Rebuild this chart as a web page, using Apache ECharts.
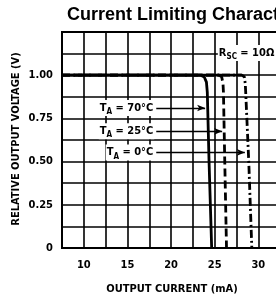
<!DOCTYPE html>
<html>
<head>
<meta charset="utf-8">
<script src="https://cdn.jsdelivr.net/npm/echarts@6/dist/echarts.min.js"></script>
<style>
    html, body { margin: 0; padding: 0; background: #fff; }
    #chart { width: 276px; height: 301px; }
</style>
</head>
<body>
<div id="chart"></div>
<script>
// 曲线数据 [输出电流 mA, 相对输出电压]
var curve70C = [[7.5, 1.0], [23.4, 1.0], [23.8, 0.99], [24.05, 0.96], [24.15, 0.9], [24.35, 0.5], [24.65, 0]];
var curve25C = [[7.5, 1.0], [25.5, 1.0], [25.8, 0.99], [25.95, 0.95], [26.0, 0.9], [26.15, 0.5], [26.35, 0]];
var curve0C = [[7.5, 1.0], [28.1, 1.0], [28.4, 0.99], [28.5, 0.95], [28.55, 0.9], [28.9, 0.5], [29.25, 0]];

var seriesNames = ['70°C', '25°C', '0°C'];
// 箭头: [起点 mA, 终点 mA, 电压]
var arrow70C = [18.3, 23.9, 0.81];
var arrow25C = [18.3, 25.85, 0.675];
var arrow0C = [18.3, 28.45, 0.553];
var rscLabelAt = [25.3, 1.128];

var xTickLabels = [10, 15, 20, 25, 30];
var yTickLabels = [0, 0.25, 0.5, 0.75, 1.0];

(function () {
    "use strict";
    var FONT = '"Liberation Sans Narrow", "DejaVu Sans Condensed", "Liberation Sans", sans-serif';
    var chart = echarts.init(document.getElementById('chart'), null, { renderer: 'canvas' });

    function near(list, v) {
        for (var i = 0; i < list.length; i++) {
            if (Math.abs(list[i] - v) < 1e-6) {
                return true;
            }
        }
        return false;
    }

    function richStyle(size) {
        return {
            t: { fontFamily: FONT, fontWeight: 'bold', fontSize: size, color: '#000', lineHeight: 16, verticalAlign: 'middle' },
            s: { fontFamily: FONT, fontWeight: 'bold', fontSize: 8, color: '#000', lineHeight: 16, verticalAlign: 'bottom' }
        };
    }

    function tempLabel(name) {
        return {
            show: true,
            position: 'start',
            distance: 2,
            formatter: '{t|T}{s|A}{t| = ' + name + '}',
            backgroundColor: '#fff',
            padding: [0, 1, 0, 1],
            rich: richStyle(11)
        };
    }

    function arrowLine(a, name) {
        return {
            silent: true,
            symbol: ['none', 'arrow'],
            symbolSize: [5, 8],
            lineStyle: { color: '#000', width: 1.4, type: 'solid' },
            label: tempLabel(name),
            data: [[{ coord: [a[0], a[2]] }, { coord: [a[1], a[2]] }]]
        };
    }

    function makeSeries(name, data, lineType, arrow) {
        return {
            name: name,
            type: 'line',
            data: data,
            showSymbol: false,
            smooth: false,
            z: 5,
            lineStyle: { color: '#000', width: 2.8, type: lineType },
            markLine: arrowLine(arrow, name)
        };
    }

    var series = [
        makeSeries(seriesNames[0], curve70C, 'solid', arrow70C),
        makeSeries(seriesNames[1], curve25C, [8, 4], arrow25C),
        makeSeries(seriesNames[2], curve0C, [8, 3, 2, 3], arrow0C),
        {
            // 三条曲线共用的 1.00 平直段, 实线
            name: 'limit',
            type: 'line',
            data: curve0C.slice(0, 2),
            showSymbol: false,
            z: 6,
            lineStyle: { color: '#000', width: 2.8, type: 'solid' }
        }
    ];
    series[0].markPoint = {
        silent: true,
        symbol: 'rect',
        symbolSize: 1,
        itemStyle: { color: 'rgba(0,0,0,0)' },
        label: {
            show: true,
            position: 'right',
            distance: 0,
            formatter: '{t|R}{s|SC}{t| = 10Ω -}',
            backgroundColor: '#fff',
            padding: [0, 1, 0, 1],
            rich: richStyle(11)
        },
        data: [{ coord: rscLabelAt }]
    };

    var option = {
        animation: false,
        backgroundColor: '#fff',
        title: {
            text: 'Current Limiting Characteristics',
            left: 62,
            top: 1,
            textStyle: { fontFamily: '"Liberation Sans", Arial, sans-serif', fontWeight: 'bold', fontSize: 18, color: '#000' }
        },
        grid: {
            left: 62,
            top: 32,
            width: 240,
            height: 216,
            outerBoundsMode: 'none',
            containLabel: false,
            show: true,
            borderColor: '#000',
            borderWidth: 2
        },
        xAxis: {
            type: 'value',
            min: 7.5,
            max: 35,
            interval: 2.5,
            axisLine: { show: true, lineStyle: { color: '#000', width: 2 } },
            axisTick: { show: false },
            splitLine: { show: true, lineStyle: { color: '#000', width: 1.6 } },
            axisLabel: {
                margin: 12,
                fontFamily: FONT,
                fontWeight: 'bold',
                fontSize: 11,
                color: '#000',
                formatter: function (v) {
                    return near(xTickLabels, v) ? String(v) : '';
                }
            }
        },
        yAxis: {
            type: 'value',
            min: 0,
            max: 1.25,
            interval: 0.125,
            axisLine: { show: true, lineStyle: { color: '#000', width: 2 } },
            axisTick: { show: false },
            splitLine: { show: true, lineStyle: { color: '#000', width: 1.6 } },
            axisLabel: {
                margin: 9,
                fontFamily: FONT,
                fontWeight: 'bold',
                fontSize: 11,
                color: '#000',
                formatter: function (v) {
                    if (!near(yTickLabels, v)) {
                        return '';
                    }
                    return v === 0 ? '0' : v.toFixed(2);
                }
            }
        },
        graphic: [
            {
                type: 'text',
                x: 172,
                y: 289,
                style: {
                    text: 'OUTPUT CURRENT (mA)',
                    align: 'center',
                    verticalAlign: 'middle',
                    fontFamily: FONT,
                    fontWeight: 'bold',
                    fontSize: 11,
                    fill: '#000'
                }
            },
            {
                type: 'text',
                x: 16,
                y: 139,
                rotation: Math.PI / 2,
                style: {
                    text: 'RELATIVE OUTPUT VOLTAGE (V)',
                    align: 'center',
                    verticalAlign: 'middle',
                    fontFamily: FONT,
                    fontWeight: 'bold',
                    fontSize: 11,
                    fill: '#000'
                }
            }
        ],
        series: series
    };
    chart.setOption(option);
}());
</script>
</body>
</html>
